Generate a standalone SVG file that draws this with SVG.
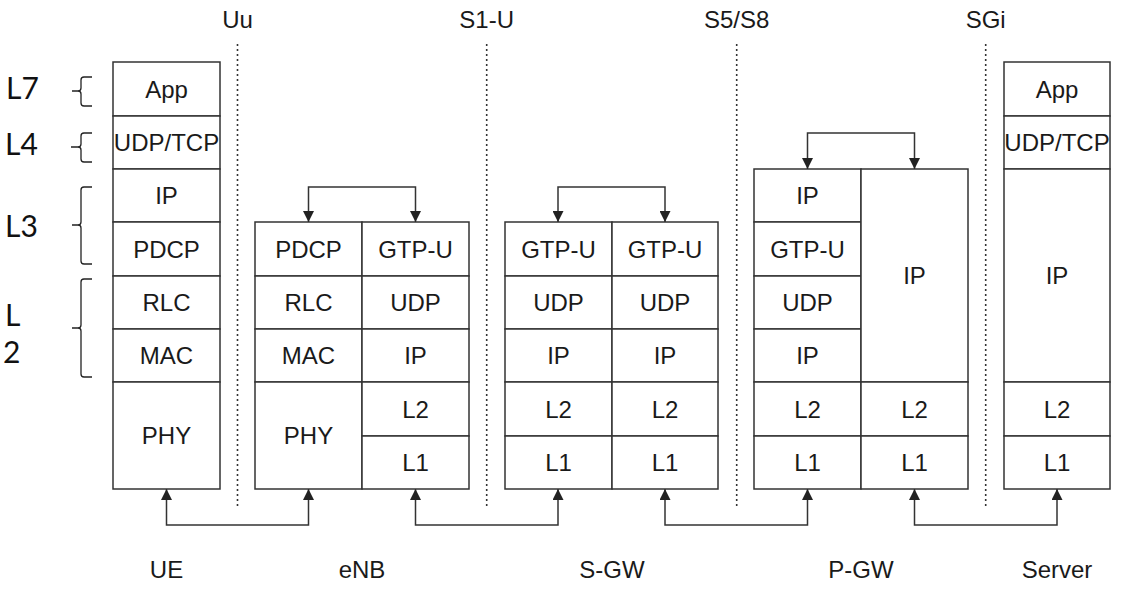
<svg xmlns="http://www.w3.org/2000/svg" width="1121" height="590" viewBox="0 0 1121 590">
<defs>
<style>
.box{fill:#fff;stroke:#333;stroke-width:1.5}
.ln{fill:none;stroke:#333;stroke-width:1.5}
.t{font-family:"Liberation Sans",Arial,sans-serif;font-size:24px;fill:#1a1a1a;text-anchor:middle}
.lay{font-family:Lato,"Noto Sans",sans-serif;font-size:30px;font-weight:400;fill:#111}
.dot{fill:none;stroke:#333;stroke-width:1.6;stroke-dasharray:2 3}
.br{fill:none;stroke:#222;stroke-width:1.3}
.arr{fill:none;stroke:#333;stroke-width:1.5;marker-start:url(#ah);marker-end:url(#ah)}
</style>
<marker id="ah" viewBox="0 0 10 10" refX="10" refY="5" markerWidth="11" markerHeight="11" markerUnits="userSpaceOnUse" orient="auto-start-reverse">
<path d="M0,0 L10,5 L0,10 z" fill="#222"/>
</marker>
</defs>
<rect width="1121" height="590" fill="#fff"/>

<g id="layer-labels">
<text class="lay" x="6" y="99">L7</text>
<text class="lay" x="5" y="155">L4</text>
<text class="lay" x="5" y="237">L3</text>
<text class="lay" x="5" y="326">L</text>
<text class="lay" x="3" y="363">2</text>
<path class="br" d="M92,77 H84 Q81,77 81,80 V88 Q81,91 78,91 H72 M78,91 Q81,91 81,94 V103 Q81,106 84,106 H92"/>
<path class="br" d="M92,133 H84 Q81,133 81,136 V144 Q81,147 78,147 H71 M78,147 Q81,147 81,150 V159 Q81,162 84,162 H92"/>
<path class="br" d="M92,187 H84 Q81,187 81,190 V222 Q81,225 78,225 H72 M78,225 Q81,225 81,228 V261 Q81,264 84,264 H92"/>
<path class="br" d="M92,279 H84 Q81,279 81,282 V325 Q81,328 78,328 H72 M78,328 Q81,328 81,331 V374 Q81,377 84,377 H92"/>
</g>

<g id="interfaces">
<line class="dot" x1="237.5" y1="44" x2="237.5" y2="506"/>
<line class="dot" x1="486.7" y1="44" x2="486.7" y2="506"/>
<line class="dot" x1="736.7" y1="44" x2="736.7" y2="506"/>
<line class="dot" x1="985.7" y1="44" x2="985.7" y2="506"/>
<text class="t" x="237.5" y="28">Uu</text>
<text class="t" x="486.7" y="28">S1-U</text>
<text class="t" x="736.7" y="28">S5/S8</text>
<text class="t" x="985.7" y="28">SGi</text>
</g>

<g id="UE">
<rect class="box" x="113" y="62" width="107" height="54"/>
<rect class="box" x="113" y="116" width="107" height="53"/>
<rect class="box" x="113" y="169" width="107" height="53"/>
<rect class="box" x="113" y="222" width="107" height="54"/>
<rect class="box" x="113" y="276" width="107" height="53"/>
<rect class="box" x="113" y="329" width="107" height="53"/>
<rect class="box" x="113" y="382" width="107" height="107"/>
<text class="t" x="166.5" y="98">App</text>
<text class="t" x="166.5" y="151">UDP/TCP</text>
<text class="t" x="166.5" y="204">IP</text>
<text class="t" x="166.5" y="258">PDCP</text>
<text class="t" x="166.5" y="311">RLC</text>
<text class="t" x="166.5" y="364">MAC</text>
<text class="t" x="166.5" y="444">PHY</text>
<text class="t" x="166.5" y="578">UE</text>
</g>

<g id="eNB">
<rect class="box" x="255" y="222" width="107" height="54"/>
<rect class="box" x="255" y="276" width="107" height="53"/>
<rect class="box" x="255" y="329" width="107" height="53"/>
<rect class="box" x="255" y="382" width="107" height="107"/>
<rect class="box" x="362" y="222" width="107" height="54"/>
<rect class="box" x="362" y="276" width="107" height="53"/>
<rect class="box" x="362" y="329" width="107" height="53"/>
<rect class="box" x="362" y="382" width="107" height="54"/>
<rect class="box" x="362" y="436" width="107" height="53"/>
<text class="t" x="308.5" y="258">PDCP</text>
<text class="t" x="308.5" y="311">RLC</text>
<text class="t" x="308.5" y="364">MAC</text>
<text class="t" x="308.5" y="444">PHY</text>
<text class="t" x="415.5" y="258">GTP-U</text>
<text class="t" x="415.5" y="311">UDP</text>
<text class="t" x="415.5" y="364">IP</text>
<text class="t" x="415.5" y="418">L2</text>
<text class="t" x="415.5" y="471">L1</text>
<text class="t" x="362" y="578">eNB</text>
</g>

<g id="S-GW">
<rect class="box" x="505" y="222" width="107" height="54"/>
<rect class="box" x="505" y="276" width="107" height="53"/>
<rect class="box" x="505" y="329" width="107" height="53"/>
<rect class="box" x="505" y="382" width="107" height="54"/>
<rect class="box" x="505" y="436" width="107" height="53"/>
<rect class="box" x="612" y="222" width="106" height="54"/>
<rect class="box" x="612" y="276" width="106" height="53"/>
<rect class="box" x="612" y="329" width="106" height="53"/>
<rect class="box" x="612" y="382" width="106" height="54"/>
<rect class="box" x="612" y="436" width="106" height="53"/>
<text class="t" x="558.5" y="258">GTP-U</text>
<text class="t" x="558.5" y="311">UDP</text>
<text class="t" x="558.5" y="364">IP</text>
<text class="t" x="558.5" y="418">L2</text>
<text class="t" x="558.5" y="471">L1</text>
<text class="t" x="665" y="258">GTP-U</text>
<text class="t" x="665" y="311">UDP</text>
<text class="t" x="665" y="364">IP</text>
<text class="t" x="665" y="418">L2</text>
<text class="t" x="665" y="471">L1</text>
<text class="t" x="612" y="578">S-GW</text>
</g>

<g id="P-GW">
<rect class="box" x="754" y="169" width="107" height="53"/>
<rect class="box" x="754" y="222" width="107" height="54"/>
<rect class="box" x="754" y="276" width="107" height="53"/>
<rect class="box" x="754" y="329" width="107" height="53"/>
<rect class="box" x="754" y="382" width="107" height="54"/>
<rect class="box" x="754" y="436" width="107" height="53"/>
<rect class="box" x="861" y="169" width="107" height="213"/>
<rect class="box" x="861" y="382" width="107" height="54"/>
<rect class="box" x="861" y="436" width="107" height="53"/>
<text class="t" x="807.5" y="204">IP</text>
<text class="t" x="807.5" y="258">GTP-U</text>
<text class="t" x="807.5" y="311">UDP</text>
<text class="t" x="807.5" y="364">IP</text>
<text class="t" x="807.5" y="418">L2</text>
<text class="t" x="807.5" y="471">L1</text>
<text class="t" x="914.5" y="284">IP</text>
<text class="t" x="914.5" y="418">L2</text>
<text class="t" x="914.5" y="471">L1</text>
<text class="t" x="861" y="578">P-GW</text>
</g>

<g id="Server">
<rect class="box" x="1004" y="62" width="106" height="54"/>
<rect class="box" x="1004" y="116" width="106" height="53"/>
<rect class="box" x="1004" y="169" width="106" height="213"/>
<rect class="box" x="1004" y="382" width="106" height="54"/>
<rect class="box" x="1004" y="436" width="106" height="53"/>
<text class="t" x="1057" y="98">App</text>
<text class="t" x="1057" y="151">UDP/TCP</text>
<text class="t" x="1057" y="284">IP</text>
<text class="t" x="1057" y="418">L2</text>
<text class="t" x="1057" y="471">L1</text>
<text class="t" x="1057" y="578">Server</text>
</g>

<g id="connectors">
<path class="arr" d="M308.5,222 V187 H415.5 V222"/>
<path class="arr" d="M558,222 V187 H665 V222"/>
<path class="arr" d="M807.5,169 V133 H914.5 V169"/>
<path class="arr" d="M166.5,489 V525 H308.5 V489"/>
<path class="arr" d="M415.5,489 V525 H558 V489"/>
<path class="arr" d="M665,489 V525 H807.5 V489"/>
<path class="arr" d="M914.5,489 V525 H1057 V489"/>
</g>
</svg>
